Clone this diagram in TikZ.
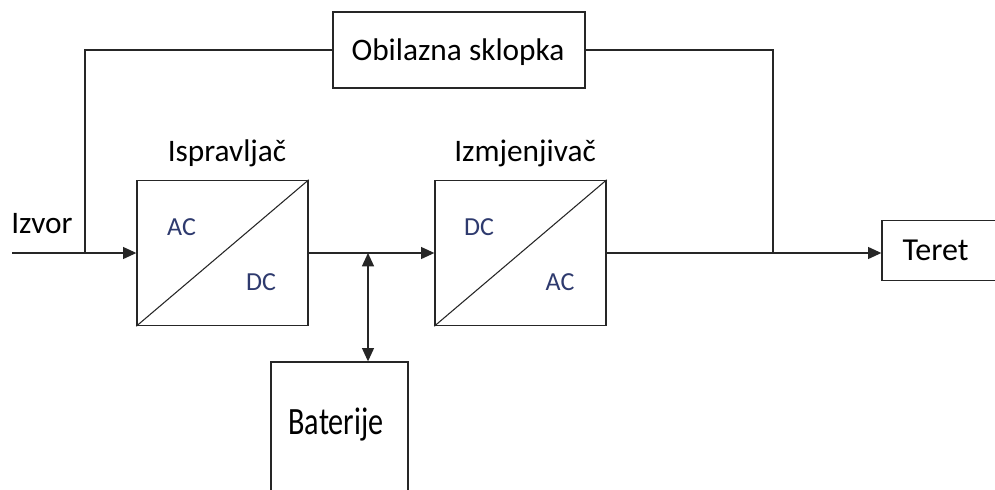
\documentclass[tikz,border=0pt]{standalone}
\usepackage{fontspec}
\setmainfont{Carlito}
\usetikzlibrary{arrows.meta}
\definecolor{navy}{HTML}{2E3A6E}
\definecolor{ln}{HTML}{262626}
\tikzset{
  blk/.style={draw=ln, line width=1pt, rectangle, inner sep=0pt},
  conn/.style={draw=ln, line width=1pt},
  tip/.tip={Triangle[length=10pt,width=9pt]},
  arr/.style={conn, -tip},
  darr/.style={conn, tip-tip},
  lbl/.style={inner sep=0pt, font=\fontsize{23.5}{27}\selectfont},
  conv/.style={inner sep=0pt, text=navy, font=\fontsize{19.5}{22}\selectfont}
}
\begin{document}
\begin{tikzpicture}[x=0.75pt,y=-0.75pt]
\useasboundingbox (0,0) rectangle (995,489);
\clip (0,0) rectangle (995,489);
\fill[white] (0,0) rectangle (995,489);
% blocks
\node[blk, minimum width=189pt, minimum height=57pt] (bypass) at (459,50) {};
\node[lbl] (bypasstxt) at (458,52) {Obilazna sklopka};
\node[blk, minimum width=128.25pt, minimum height=108.75pt] (rect) at (222.5,253) {};
\node[blk, minimum width=128.25pt, minimum height=108.75pt] (inv) at (520.5,253) {};
\node[blk, minimum width=102.75pt, minimum height=118.5pt] (batt) at (339.5,441) {};
\node[inner sep=0pt, font=\fontsize{29}{33}\selectfont] (batttxt) at (336,425) {\scalebox{0.78}[1]{Baterije}};
\node[blk, minimum width=96pt, minimum height=45pt] (teret) at (946,250.5) {};
\node[lbl, font=\fontsize{24}{28}\selectfont] (terettxt) at (935.5,250) {Teret};
% diagonals
\draw[conn, line width=0.8pt] (rect.south west) -- (rect.north east);
\draw[conn, line width=0.8pt] (inv.south west) -- (inv.north east);
% converter labels
\node[conv] (ac1) at (181.5,227) {AC};
\node[conv] (dc1) at (261,282) {DC};
\node[conv] (dc2) at (479,227) {DC};
\node[conv] (ac2) at (560,282) {AC};
% titles
\node[lbl] (t1) at (227,153) {Ispravljač};
\node[lbl] (t2) at (525,153) {Izmjenjivač};
\node[lbl] (izvor) at (42,224) {Izvor};
% connectors
\coordinate (src) at (12,253);
\coordinate (j1) at (85,253);
\coordinate (j2) at (773,253);
\coordinate (j3) at (368,253);
\draw[arr] (src) -- (rect.west);
\draw[conn] (j1) |- (bypass.west);
\draw[conn] (bypass.east) -| (j2);
\draw[arr] (rect.east) -- (inv.west);
\draw[darr] (j3) -- (j3 |- batt.north);
\draw[arr] (inv.east) -- (teret.west |- inv.east);
\end{tikzpicture}
\end{document}
